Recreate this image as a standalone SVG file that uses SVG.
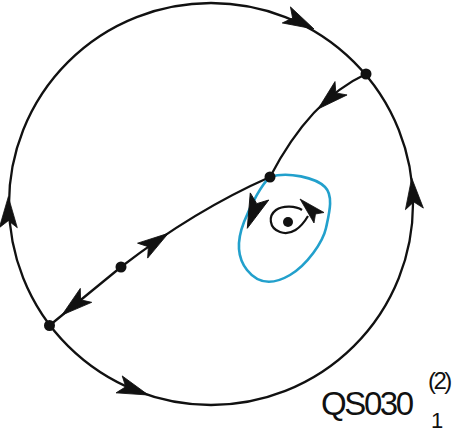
<svg xmlns="http://www.w3.org/2000/svg" xmlns:xlink="http://www.w3.org/1999/xlink" width="453" height="433" viewBox="0 0 453 433">
<style>
.ln{fill:none;stroke:#111;stroke-width:2.3}
.bl{fill:none;stroke:#22a0cc;stroke-width:2.6}
.sp{fill:none;stroke:#111;stroke-width:2.2}
.nd{fill:#111}
.ah{fill:#111;stroke:#111;stroke-width:0.8;stroke-linejoin:miter}
.tx{font-family:"Liberation Sans",Arial,sans-serif;fill:#111}
</style>
<defs>
<path id="ah" class="ah" d="M0,0 L-31,-9 L-24,0 L-31,9 Z"/>
</defs>
<g id="connectors">
<ellipse class="ln" cx="211" cy="204" rx="202" ry="201"/>
<path class="ln" d="M366,74 Q310,100 270,177"/>
<path class="ln" d="M270,177 Q195,210 121,267 L49.5,325.5"/>
<path class="bl" d="M270,177 C288,171 316,178 325,187 S329,214 326,228 S307,265 290,275 S258,284 247,270 S237,240 244,222 S262,184 270,177 Z"/>
<path class="sp" d="M302,210 C296,206 283,205 276,210 C268,216 269,228 280,232 C291,236 301,228 308,216"/>
<use xlink:href="#ah" transform="translate(314,29) rotate(27)"/>
<use xlink:href="#ah" transform="translate(411.7,178) rotate(-95)"/>
<use xlink:href="#ah" transform="translate(8.3,196.7) rotate(-90)"/>
<use xlink:href="#ah" transform="translate(148.3,395) rotate(20)"/>
<use xlink:href="#ah" transform="translate(318,109) rotate(138)"/>
<use xlink:href="#ah" transform="translate(168.3,233.3) rotate(-34)"/>
<use xlink:href="#ah" transform="translate(62,315) rotate(140.7)"/>
<use xlink:href="#ah" transform="translate(247.3,228.3) rotate(111) scale(1.1)"/>
<polygon class="ah" points="300,199 324,212.5 315.5,214 314,223"/>
</g>
<g id="node-saddle-top"><circle class="nd" cx="366" cy="74" r="5.5"/></g>
<g id="node-saddle-inner"><circle class="nd" cx="270" cy="177" r="5.5"/></g>
<g id="node-small"><circle class="nd" cx="121" cy="267" r="5.5"/></g>
<g id="node-saddle-left"><circle class="nd" cx="49.5" cy="325.5" r="5.5"/></g>
<g id="node-focus"><circle class="nd" cx="288" cy="222" r="5"/></g>
<g id="label">
<text class="tx" x="321" y="415" font-size="33" letter-spacing="-2.4">QS030</text>
<text class="tx" x="428" y="389" font-size="24" letter-spacing="-2.5">(2)</text>
<text class="tx" x="431" y="428" font-size="22">1</text>
</g>
</svg>
